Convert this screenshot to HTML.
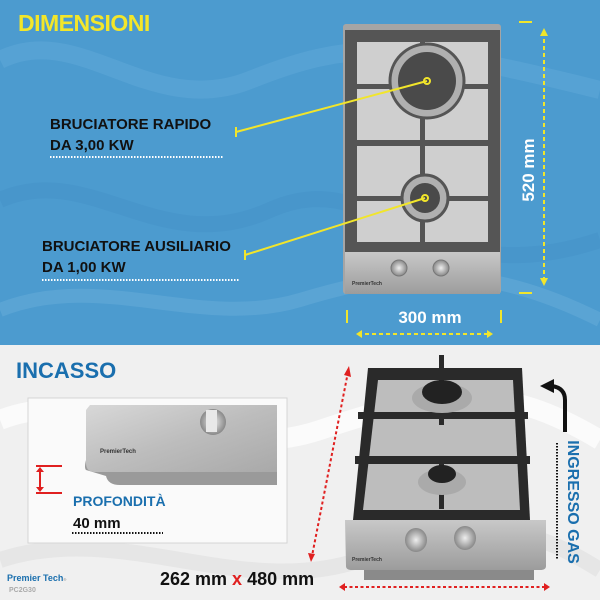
<!DOCTYPE html>
<html><head><meta charset="utf-8"><style>
html,body{margin:0;padding:0;width:600px;height:600px;overflow:hidden}
svg{display:block}
text{font-family:"Liberation Sans","DejaVu Sans",sans-serif;font-weight:bold}
</style></head><body>
<svg width="600" height="600" viewBox="0 0 600 600" xmlns="http://www.w3.org/2000/svg">
<defs>
<linearGradient id="steel" x1="0" y1="0" x2="1" y2="1"><stop offset="0" stop-color="#d8d8d8"/><stop offset="0.5" stop-color="#bdbdbd"/><stop offset="1" stop-color="#a9a9a9"/></linearGradient>
<linearGradient id="steel2" x1="0" y1="0" x2="0" y2="1"><stop offset="0" stop-color="#c8c8c8"/><stop offset="1" stop-color="#9c9c9c"/></linearGradient>
<radialGradient id="knob"><stop offset="0" stop-color="#eee"/><stop offset="1" stop-color="#888"/></radialGradient>
</defs>
<rect x="0" y="0" width="600" height="345" fill="#4c9bcf"/>
<path d="M0 60 C80 20 150 120 250 80 S400 40 600 90" stroke="#6aafdc" stroke-width="18" fill="none" opacity="0.35"/>
<path d="M0 200 C90 160 160 260 270 210 S420 300 600 240" stroke="#3f8cc2" stroke-width="16" fill="none" opacity="0.3"/>
<path d="M0 310 C100 270 200 330 300 300 S480 260 600 320" stroke="#7ab9e2" stroke-width="14" fill="none" opacity="0.3"/>
<rect x="0" y="345" width="600" height="255" fill="#f0f0f0"/>
<path d="M0 420 C100 380 200 470 320 430 S500 380 600 440" stroke="#ffffff" stroke-width="20" fill="none" opacity="0.7"/>
<path d="M0 560 C120 520 240 600 360 560 S520 520 600 570" stroke="#e0e0e0" stroke-width="16" fill="none" opacity="0.6"/>

<rect x="343" y="24" width="158" height="270" rx="3" fill="#a5a5a5"/>
<rect x="345" y="30" width="155" height="222" fill="#555"/>
<rect x="357" y="42" width="131" height="42" fill="#cfcfcf"/>
<rect x="357" y="88" width="131" height="52" fill="#cfcfcf"/>
<rect x="357" y="146" width="131" height="50" fill="#cfcfcf"/>
<rect x="357" y="200" width="131" height="42" fill="#cfcfcf"/>
<rect x="345" y="84" width="155" height="5" fill="#555"/>
<rect x="345" y="141" width="155" height="5" fill="#555"/>
<rect x="345" y="196" width="155" height="5" fill="#555"/>
<rect x="420" y="30" width="5" height="222" fill="#555"/>
<circle cx="427" cy="81" r="37" fill="#b0b0b0" stroke="#555" stroke-width="3"/>
<circle cx="427" cy="81" r="29" fill="#4a4a4a"/>
<circle cx="425" cy="198" r="23" fill="#b0b0b0" stroke="#555" stroke-width="3"/>
<circle cx="425" cy="198" r="15" fill="#4a4a4a"/>
<rect x="345" y="252" width="155" height="42" fill="url(#steel2)"/>
<circle cx="399" cy="268" r="8" fill="url(#knob)" stroke="#777"/>
<circle cx="441" cy="268" r="8" fill="url(#knob)" stroke="#777"/>
<text x="352" y="285" font-size="5" fill="#333">PremierTech</text>

<g stroke="#f1e52b" stroke-width="2" fill="none">
<line x1="236" y1="132" x2="427" y2="81"/><circle cx="427" cy="81" r="3"/>
<line x1="236" y1="127" x2="236" y2="137"/>
<line x1="245" y1="255" x2="425" y2="198"/><circle cx="425" cy="198" r="3"/>
<line x1="245" y1="250" x2="245" y2="260"/>
</g>
<text x="50" y="129" font-size="15" fill="#111">BRUCIATORE RAPIDO</text>
<text x="50" y="150" font-size="15" fill="#111">DA 3,00 KW</text>
<line x1="50" y1="157" x2="224" y2="157" stroke="#fff" stroke-width="2" stroke-dasharray="1.5 1.5"/>
<text x="42" y="251" font-size="15" fill="#111">BRUCIATORE AUSILIARIO</text>
<text x="42" y="272" font-size="15" fill="#111">DA 1,00 KW</text>
<line x1="42" y1="280" x2="240" y2="280" stroke="#fff" stroke-width="2" stroke-dasharray="1.5 1.5"/>

<text x="18" y="31" font-size="23" fill="#f3e62a" letter-spacing="-0.5">DIMENSIONI</text>

<g stroke="#f1e52b" stroke-width="2" fill="none">
<line x1="519" y1="22" x2="532" y2="22"/><line x1="519" y1="293" x2="532" y2="293"/>
<line x1="544" y1="32" x2="544" y2="282" stroke-dasharray="4 3"/>
<line x1="347" y1="310" x2="347" y2="323"/><line x1="501" y1="310" x2="501" y2="323"/>
<line x1="358" y1="334" x2="491" y2="334" stroke-dasharray="4 3"/>
</g>
<path d="M540 36 L544 28 L548 36Z M540 278 L544 286 L548 278Z M362 330 L356 334 L362 338Z M487 330 L493 334 L487 338Z" fill="#f1e52b"/>
<text x="0" y="0" font-size="17" fill="#fff" transform="translate(534,170) rotate(-90)" text-anchor="middle">520 mm</text>
<text x="430" y="323" font-size="17" fill="#fff" text-anchor="middle">300 mm</text>

<text x="16" y="378" font-size="22" fill="#1a6fae">INCASSO</text>
<rect x="28" y="398" width="259" height="145" fill="#fafafa" stroke="#d5d5d5"/>
<path d="M92 405 L277 405 L277 485 L120 485 Q108 485 106 476 L86 470 Q84 468 86 460Z" fill="#9a9a9a"/>
<path d="M90 405 L277 405 L277 472 L95 472 Q86 472 86 463 L86 410Z" fill="url(#steel)"/>
<circle cx="213" cy="422" r="13" fill="url(#knob)"/>
<rect x="206" y="410" width="11" height="22" fill="#e8e8e8"/>
<text x="100" y="453" font-size="6" fill="#333">PremierTech</text>
<g stroke="#e02020" stroke-width="2" fill="none">
<line x1="36" y1="466" x2="62" y2="466"/><line x1="36" y1="493" x2="62" y2="493"/>
<line x1="40" y1="470" x2="40" y2="489"/>
</g>
<path d="M36 472 L40 467 L44 472Z M36 487 L40 492 L44 487Z" fill="#e02020"/>
<text x="73" y="506" font-size="14" fill="#1a6fae">PROFONDITÀ</text>
<text x="73" y="528" font-size="15" fill="#111">40 mm</text>
<line x1="72" y1="533" x2="163" y2="533" stroke="#111" stroke-width="2" stroke-dasharray="1.5 1.5"/>

<path d="M368 368 L522 368 L530 520 L353 520Z" fill="#2a2a2a"/>
<path d="M378 380 L513 380 L520 510 L363 510Z" fill="#bdbdbd"/>
<rect x="358" y="412" width="170" height="7" fill="#2a2a2a"/>
<rect x="355" y="456" width="175" height="8" fill="#2a2a2a"/>
<rect x="439" y="355" width="5" height="70" fill="#2a2a2a"/>
<rect x="439" y="464" width="5" height="45" fill="#2a2a2a"/>
<ellipse cx="442" cy="398" rx="30" ry="15" fill="#aaa"/>
<ellipse cx="442" cy="392" rx="20" ry="12" fill="#222"/>
<ellipse cx="442" cy="482" rx="24" ry="13" fill="#aaa"/>
<ellipse cx="442" cy="474" rx="14" ry="9" fill="#222"/>
<path d="M345 520 L546 520 L546 566 Q546 570 540 570 L352 570 Q346 570 346 566Z" fill="url(#steel2)"/>
<rect x="364" y="570" width="170" height="10" fill="#8a8a8a"/>
<ellipse cx="416" cy="540" rx="11" ry="12" fill="url(#knob)"/>
<ellipse cx="465" cy="538" rx="11" ry="12" fill="url(#knob)"/>
<text x="352" y="561" font-size="5" fill="#333">PremierTech</text>

<g stroke="#e02020" stroke-width="2" fill="none" stroke-dasharray="3 2.5">
<line x1="348" y1="372" x2="312" y2="556"/>
<line x1="344" y1="587" x2="545" y2="587"/>
</g>
<path d="M344 375 L349 366 L351 377Z M308 553 L311 562 L315 554Z M345 583 L339 587 L345 591Z M544 583 L550 587 L544 591Z" fill="#e02020"/>
<text x="160" y="585" font-size="18" fill="#111">262 mm <tspan fill="#e02020">x</tspan> 480 mm</text>

<path d="M565 432 L565 400 Q565 388 552 386" stroke="#111" stroke-width="4" fill="none"/>
<path d="M554 379 L540 386 L554 393Z" fill="#111"/>
<line x1="557" y1="443" x2="557" y2="560" stroke="#111" stroke-width="2" stroke-dasharray="1.5 1.5"/>
<text x="0" y="0" font-size="16" fill="#1a6fae" transform="translate(568,502) rotate(90)" text-anchor="middle">INGRESSO GAS</text>

<text x="7" y="581" font-size="9" fill="#1a6fae">Premier Tech<tspan font-size="4" fill="#999">®</tspan></text>
<text x="9" y="592" font-size="7" fill="#aaa" font-weight="normal">PC2G30</text>
</svg>
</body></html>
